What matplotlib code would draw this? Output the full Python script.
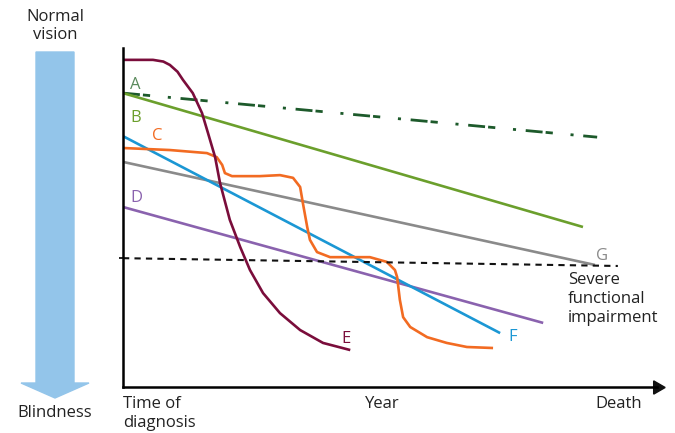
import numpy as np
import matplotlib.pyplot as plt
from matplotlib.patches import FancyArrow

plt.rcParams['font.family'] = ['Open Sans', 'DejaVu Sans']

# 时间轴 0..100 (诊断 -> 死亡), 视力 0..100 (失明 -> 正常)
a_x = [0, 87.0]
a_y = [86.7, 73.7]
b_x = [0, 84.4]
b_y = [86.7, 47.2]
f_x = [0, 69.2]
f_y = [74.0, 15.9]
d_x = [0, 77.1]
d_y = [53.1, 18.9]
g_x = [0, 86.6]
g_y = [66.4, 36.0]
severe_x = [0, 90.8]
severe_y = [38.0, 35.7]

c_x = [0, 8.6, 15.4, 17.2, 18.2, 18.7, 20.0, 25.1, 28.8, 31.2, 32.5, 33.0, 33.8,
       34.3, 35.6, 38.0, 45.3, 48.4, 49.9, 50.3, 50.8, 51.4, 52.7, 55.8, 59.4,
       63.1, 67.9]
c_y = [70.5, 69.9, 69.0, 67.8, 65.5, 63.1, 62.2, 62.2, 62.5, 61.7, 59.0, 54.3, 47.2,
       43.4, 39.8, 38.3, 38.3, 36.9, 34.5, 32.4, 25.7, 20.6, 17.7, 14.7, 13.0,
       11.8, 11.5]

e_x = [0, 5.5, 7.4, 8.6, 10.0, 11.0, 12.8, 14.5, 15.6, 16.9, 17.8, 19.6, 21.5,
       23.3, 25.7, 28.8, 32.5, 36.7, 41.7]
e_y = [96.5, 96.5, 96.0, 95.0, 93.0, 90.6, 86.7, 80.8, 74.9, 67.8, 60.2, 49.3, 41.3,
       34.5, 27.7, 21.8, 16.8, 13.0, 10.9]

time_labels = ["Time of\ndiagnosis", "Year", "Death"]
time_pos = [0, 47.5, 91]

fig = plt.figure(figsize=(6.75, 4.33), dpi=100)
ax = fig.add_axes([123 / 675, (433 - 387) / 433, 545 / 675, 339 / 433])
ax.set_xlim(0, 100)
ax.set_ylim(0, 100)

lw = 1.9
kw = dict(lw=lw, solid_joinstyle='round', solid_capstyle='butt')
ax.plot(a_x, a_y, color='#1d5a2b', lw=2.0, linestyle=(0, (6.1, 1.1, 2.6, 6.4, 1.1, 3.5)))
ax.plot(b_x, b_y, color='#6b9f2c', **kw)
ax.plot(g_x, g_y, color='#8a8a8a', **kw)
ax.plot(d_x, d_y, color='#8a62ae', **kw)
ax.plot(f_x, f_y, color='#1b97d4', **kw)
ax.plot(c_x, c_y, color='#f26b22', **kw)
ax.plot(e_x, e_y, color='#7a0d3b', **kw)
ax.plot(severe_x, severe_y, color='#111111', lw=1.5, linestyle=(0, (3, 2.5)))

fs = 12
ax.text(1.3, 87.9, "A", color='#5a8a5c', fontsize=fs, va='baseline')
ax.text(1.3, 78.2, "B", color='#6b9f2c', fontsize=fs, va='baseline')
ax.text(5.3, 72.9, "C", color='#f26b22', fontsize=fs, va='baseline')
ax.text(1.3, 54.6, "D", color='#8a62ae', fontsize=fs, va='baseline')
ax.text(40.0, 13.0, "E", color='#7a0d3b', fontsize=fs, va='baseline')
ax.text(70.8, 13.6, "F", color='#1b97d4', fontsize=fs, va='baseline')
ax.text(86.8, 37.6, "G", color='#8a8a8a', fontsize=fs, va='baseline')
ax.text(81.6, 33.8, "Severe\nfunctional\nimpairment", fontsize=fs, color='#222222',
        va='top', linespacing=1.25)

for s in ['top', 'right']:
    ax.spines[s].set_visible(False)
ax.spines['left'].set_linewidth(1.8)
ax.spines['bottom'].set_linewidth(1.8)
ax.spines['bottom'].set_bounds(0, 98)
ax.set_xticks([])
ax.set_yticks([severe_y[0]])
ax.set_yticklabels([])
ax.tick_params(axis='y', length=3, width=1.2)
ax.plot([98], [0], marker=(3, 0, -90), markersize=11, color='#111111', clip_on=False)

for lab, p in zip(time_labels, time_pos):
    ha = 'left' if p == 0 else 'center'
    ax.text(p, -2.8, lab, fontsize=fs, color='#222222', ha=ha, va='top', linespacing=1.2)

# 左侧箭头
fig.patches.append(FancyArrow(55 / 675, 1 - 52 / 433, 0, -(346 / 433), width=38 / 675,
                              head_width=68 / 675, head_length=15 / 433,
                              length_includes_head=True, color='#93c5ea',
                              transform=fig.transFigure))
fig.text(55 / 675, 1 - 9 / 433, "Normal\nvision", fontsize=fs, color='#222222',
         ha='center', va='top', linespacing=1.2)
fig.text(55 / 675, 1 - 413 / 433, "Blindness", fontsize=fs, color='#222222',
         ha='center', va='center')

fig.savefig("out.png", dpi=100)
